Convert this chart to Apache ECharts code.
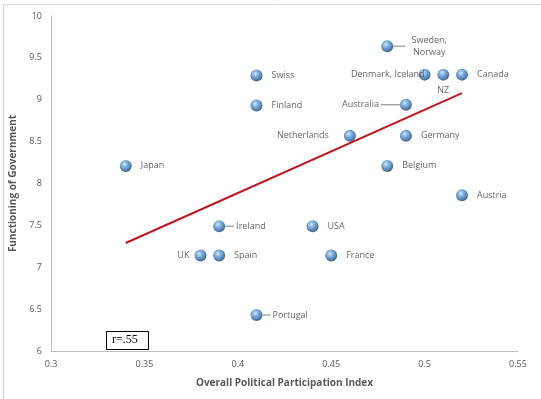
<!DOCTYPE html>
<html>
<head>
    <meta charset="utf-8">
    <title>Participation vs Government</title>
    <script src="https://cdn.jsdelivr.net/npm/echarts@6/dist/echarts.min.js"></script>
    <style>
        html, body { margin: 0; padding: 0; background: #fff; }
    </style>
</head>
<body>
    <div id="main" style="width: 541px;height:399px;"></div>
    <script type="text/javascript">
        // country data
        var countries = ['Japan', 'Swiss', 'Finland', 'Netherlands', 'Sweden,\nNorway', 'Denmark, Iceland', 'NZ', 'Canada',
            'Australia', 'Germany', 'Belgium', 'Austria', 'Ireland', 'USA', 'UK', 'Spain', 'France', 'Portugal'];
        var participation = [0.34, 0.41, 0.41, 0.46, 0.48, 0.50, 0.51, 0.52,
            0.49, 0.49, 0.48, 0.52, 0.39, 0.44, 0.38, 0.39, 0.45, 0.41];
        var government = [8.21, 9.29, 8.93, 8.57, 9.64, 9.30, 9.30, 9.30,
            8.94, 8.57, 8.21, 7.86, 7.49, 7.49, 7.14, 7.14, 7.14, 6.43];
        // fitted trend line end points
        var trendX = [0.34, 0.52];
        var trendY = [7.29, 9.08];

        // where each label sits (style only)
        var labelPlace = {
            'Netherlands': { position: 'left', distance: 15 },
            'Denmark, Iceland': { position: 'left', distance: -6 },
            'NZ': { position: 'bottom', distance: 4 },
            'UK': { position: 'left', distance: 5 },
            'Sweden,\nNorway': { position: 'right', distance: 14, align: 'center', leader: true },
            'Australia': { position: 'left', distance: 21, leader: true },
            'Ireland': { position: 'right', distance: 11, leader: true },
            'Portugal': { position: 'right', distance: 10, leader: true }
        };

        var myChart = echarts.init(document.getElementById('main'));

        var ball = {
            type: 'radial', x: 0.4, y: 0.35, r: 0.65,
            colorStops: [
                { offset: 0, color: '#d3eafb' },
                { offset: 0.3, color: '#6ea9de' },
                { offset: 0.75, color: '#2e67a5' },
                { offset: 1, color: '#1b3e66' }
            ]
        };

        var points = countries.map(function (name, i) {
            var p = labelPlace[name] || { position: 'right', distance: 9 };
            var item = {
                name: name,
                value: [participation[i], government[i]],
                label: {
                    position: p.position,
                    distance: p.distance
                }
            };
            if (p.align) {
                item.label.align = 'center';
                item.label.offset = [22, 0];
            }
            return item;
        });

        var option = {
            animation: false,
            grid: { left: 51, right: 23, top: 16, bottom: 48 },
            xAxis: {
                type: 'value',
                min: 0.3, max: 0.55, interval: 0.05,
                name: 'Overall Political Participation Index',
                nameLocation: 'middle',
                nameGap: 27,
                nameTextStyle: { color: '#595959', fontWeight: 'bold', fontSize: 10, fontFamily: 'Open Sans' },
                axisLine: { lineStyle: { color: '#bfbfbf' } },
                axisTick: { show: false },
                splitLine: { show: false },
                axisLabel: {
                    color: '#595959', fontSize: 9, fontFamily: 'Open Sans', margin: 9,
                    formatter: function (v) { return String(Math.round(v * 100) / 100); }
                }
            },
            yAxis: {
                type: 'value',
                min: 6, max: 10, interval: 0.5,
                name: 'Functioning of Government',
                nameLocation: 'middle',
                nameGap: 31,
                nameRotate: 90,
                nameTextStyle: { color: '#595959', fontWeight: 'bold', fontSize: 10, fontFamily: 'Open Sans' },
                axisLine: { show: true, lineStyle: { color: '#bfbfbf' } },
                axisTick: { show: false },
                splitLine: { show: false },
                axisLabel: { color: '#595959', fontSize: 9, fontFamily: 'Open Sans', margin: 9 }
            },
            series: [{
                type: 'line',
                data: trendX.map(function (x, i) { return [x, trendY[i]]; }),
                showSymbol: false,
                lineStyle: { color: '#c0161f', width: 2 },
                z: 1
            }, {
                type: 'scatter',
                symbolSize: 12,
                itemStyle: { color: ball },
                data: points,
                label: {
                    show: true,
                    formatter: '{b}',
                    color: '#404040',
                    fontSize: 9,
                    lineHeight: 12,
                    fontFamily: 'Open Sans'
                },
                labelLine: { show: false },
                z: 3
            }],
            graphic: [{
                type: 'rect',
                left: 1, top: 2,
                shape: { width: 538, height: 395 },
                style: { fill: 'none', stroke: '#d9d9d9', lineWidth: 1 },
                silent: true
            }, {
                type: 'group',
                left: 106, top: 331,
                z: 10,
                children: [{
                    type: 'rect',
                    shape: { x: 0.5, y: 0.5, width: 42, height: 18 },
                    style: { fill: '#fff', stroke: '#000', lineWidth: 1 }
                }, {
                    type: 'text',
                    x: 6, y: 3,
                    style: { text: 'r=.55', font: '12px "Liberation Serif"', fill: '#000' }
                }]
            }]
        };

        myChart.setOption(option);

        // short grey leader lines between some balls and their labels
        var leaders = [];
        countries.forEach(function (name, i) {
            var p = labelPlace[name];
            if (!p || !p.leader) return;
            var c = myChart.convertToPixel({ gridIndex: 0 }, [participation[i], government[i]]);
            var dir = p.position === 'left' ? -1 : 1;
            leaders.push({
                type: 'line',
                shape: { x1: c[0] + dir * 6, y1: c[1], x2: c[0] + dir * (p.distance + 4), y2: c[1] },
                style: { stroke: '#7f7f7f', lineWidth: 1 },
                z: 2,
                silent: true
            });
        });
        myChart.setOption({ graphic: option.graphic.concat(leaders) });
    </script>
</body>
</html>
